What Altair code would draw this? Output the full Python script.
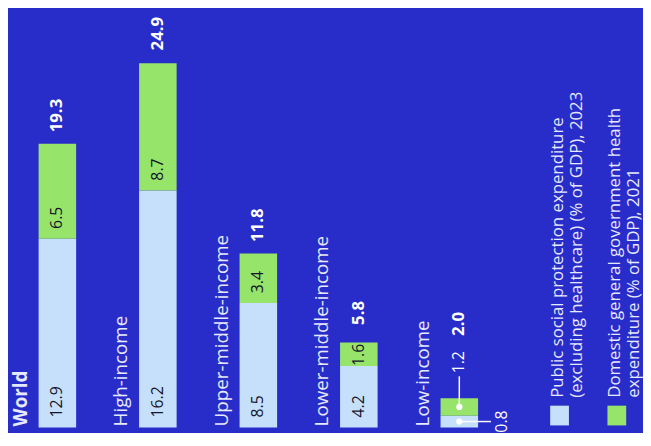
import altair as alt
import pandas as pd

categories = ["World", "High-income", "Upper-middle-income", "Lower-middle-income", "Low-income"]
social_protection = [12.9, 16.2, 8.5, 4.2, 0.8]
health_expenditure = [6.5, 8.7, 3.4, 1.6, 1.2]
totals = [19.3, 24.9, 11.8, 5.8, 2.0]
series_names = [
    "Public social protection expenditure (excluding healthcare) (% of GDP), 2023",
    "Domestic general government health expenditure (% of GDP), 2021",
]
legend_lines = [
    ["Public social protection expenditure", "(excluding healthcare) (% of GDP), 2023"],
    ["Domestic general government health", "expenditure (% of GDP), 2021"],
]
colors = ["#c6e0fb", "#97e46a"]

BG = "#282cc8"
FONT = "Open Sans"
TXT = "#e6e9ff"

long_df = pd.DataFrame({
    "category": categories * 2,
    "series": [series_names[0]] * len(categories) + [series_names[1]] * len(categories),
    "order": [0] * len(categories) + [1] * len(categories),
    "value": social_protection + health_expenditure,
})
wide_df = pd.DataFrame({
    "category": categories,
    "social": social_protection,
    "health": health_expenditure,
    "total": totals,
})

xs = alt.Scale(domain=categories, range=[31, 476], paddingInner=0.6265, paddingOuter=0)
ys = alt.Scale(domain=[0, 28.5], range=[422, 0])
X = alt.X("category:N", scale=xs, axis=None)

base = alt.Chart(long_df).transform_stack(
    stack="value", groupby=["category"], as_=["y0", "y1"],
    sort=[alt.SortField("order", order="ascending")],
)

bars = base.mark_bar().encode(
    x=X,
    y=alt.Y("y0:Q", scale=ys, axis=None),
    y2="y1:Q",
    color=alt.Color("series:N", scale=alt.Scale(domain=series_names, range=colors), legend=None),
)

labelled = base.transform_filter(alt.datum.category != "Low-income")
seg_labels = labelled.transform_filter(alt.datum.value >= 2).mark_text(
    angle=270, align="left", baseline="middle", dx=10, fontSize=16, color="#15152a", font=FONT
).encode(x=X, y=alt.Y("y0:Q", scale=ys), text=alt.Text("value:Q", format=".1f"))
seg_labels_small = labelled.transform_filter(alt.datum.value < 2).mark_text(
    angle=270, align="left", baseline="middle", dx=0, fontSize=16, color="#15152a", font=FONT
).encode(x=X, y=alt.Y("y0:Q", scale=ys), text=alt.Text("value:Q", format=".1f"))

wide = alt.Chart(wide_df)

total_labels = wide.transform_filter(alt.datum.category != "Low-income").mark_text(
    angle=270, align="center", baseline="middle", dx=30, fontSize=17, fontWeight="bold",
    color="white", font=FONT
).encode(x=X, y=alt.Y("total:Q", scale=ys), text=alt.Text("total:Q", format=".1f"))

low = wide.transform_filter(alt.datum.category == "Low-income").transform_calculate(
    mid_social="datum.social / 2", mid_health="datum.social + datum.health / 2"
)

low_total = low.mark_text(
    angle=270, align="left", baseline="middle", dx=63, fontSize=17, fontWeight="bold",
    color="white", font=FONT
).encode(x=X, y=alt.Y("total:Q", scale=ys), text=alt.Text("total:Q", format=".1f"))

cat_world = wide.transform_filter(alt.datum.category == "World").mark_text(
    angle=270, align="left", baseline="middle", dy=-37, dx=1, fontSize=19, fontWeight="bold",
    color=TXT, font=FONT
).encode(x=X, y=alt.datum(0, scale=ys), text="category:N")

cat_other = wide.transform_filter(alt.datum.category != "World").mark_text(
    angle=270, align="left", baseline="middle", dy=-37, dx=1, fontSize=19, fontWeight="normal",
    color=TXT, font=FONT
).encode(x=X, y=alt.datum(0, scale=ys), text="category:N")

v_rule = low.mark_rule(color="white", strokeWidth=1.5, y2Offset=-31).encode(
    x=X, y=alt.Y("mid_health:Q", scale=ys), y2="mid_health:Q"
)
h_rule = low.mark_rule(color="white", strokeWidth=1.5, x2Offset=32).encode(
    x=X, x2="category:N", y=alt.Y("mid_social:Q", scale=ys)
)
dot_h = low.mark_point(filled=True, size=40, color="white", opacity=1).encode(
    x=X, y=alt.Y("mid_health:Q", scale=ys)
)
dot_s = low.mark_point(filled=True, size=40, color="white", opacity=1).encode(
    x=X, y=alt.Y("mid_social:Q", scale=ys)
)
lab_h = low.mark_text(
    angle=270, align="left", baseline="middle", dx=34, fontSize=16, color="white", font=FONT
).encode(x=X, y=alt.Y("mid_health:Q", scale=ys), text=alt.Text("health:Q", format=".1f"))
lab_s = low.mark_text(
    angle=270, align="center", baseline="middle", dy=43, fontSize=16, color="white", font=FONT
).encode(x=X, y=alt.Y("mid_social:Q", scale=ys), text=alt.Text("social:Q", format=".1f"))

legend_layers = []
for i, (lines, col) in enumerate(zip(legend_lines, colors)):
    x0 = 549 + i * 58
    sw = alt.Chart(pd.DataFrame({"s": [series_names[i]]})).mark_rect(color=col).encode(
        x=alt.value(x0), x2=alt.value(x0 + 19), y=alt.value(400), y2=alt.value(420)
    )
    tx = alt.Chart(pd.DataFrame({"s": [series_names[i]]})).mark_text(
        angle=270, align="left", baseline="top", fontSize=17, lineHeight=19,
        color=TXT, font=FONT, text=lines
    ).encode(x=alt.value(x0), y=alt.value(392))
    legend_layers += [sw, tx]

chart = alt.layer(
    bars, seg_labels, seg_labels_small, total_labels, low_total, cat_world, cat_other,
    v_rule, h_rule, dot_h, dot_s, lab_h, lab_s, *legend_layers
).properties(
    width=643, height=425, background=BG, padding=0, autosize="none",
    usermeta={"embedOptions": {"defaultStyle": "html,body{background:%s;overflow:hidden;}" % BG}},
).configure(font=FONT).configure_view(strokeWidth=0, stroke="transparent")

chart.save("out.html", embed_options={"renderer": "svg", "actions": False})
